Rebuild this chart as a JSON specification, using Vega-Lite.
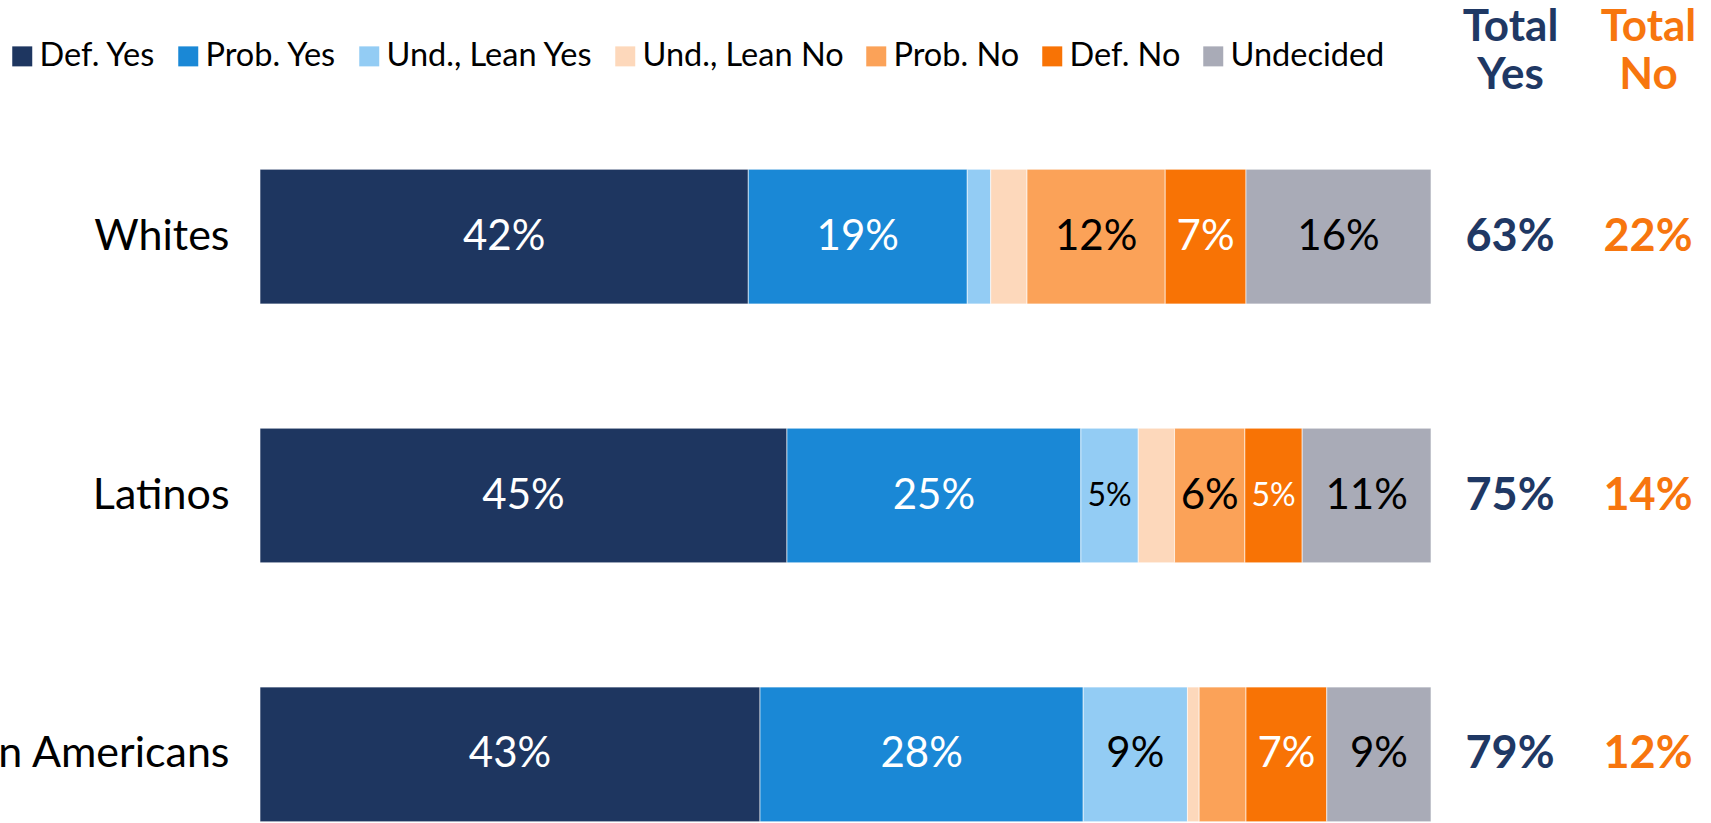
{
  "$schema": "https://vega.github.io/schema/vega-lite/v6.json",
  "autosize": "none",
  "width": 1451,
  "height": 823,
  "padding": {"left": 260, "top": 0, "right": 0, "bottom": 0},
  "background": "white",
  "config": {"view": {"stroke": null}, "font": "Lato"},
  "datasets": {
    "bars": [
      {"group": "Whites", "cat": "Def. Yes", "k": 1, "value": 41.7, "label": "42%"},
      {"group": "Whites", "cat": "Prob. Yes", "k": 2, "value": 18.7, "label": "19%"},
      {"group": "Whites", "cat": "Und., Lean Yes", "k": 3, "value": 2.0, "label": ""},
      {"group": "Whites", "cat": "Und., Lean No", "k": 4, "value": 3.1, "label": ""},
      {"group": "Whites", "cat": "Prob. No", "k": 5, "value": 11.8, "label": "12%"},
      {"group": "Whites", "cat": "Def. No", "k": 6, "value": 6.9, "label": "7%"},
      {"group": "Whites", "cat": "Undecided", "k": 7, "value": 15.8, "label": "16%"},
      {"group": "Latinos", "cat": "Def. Yes", "k": 1, "value": 45.0, "label": "45%"},
      {"group": "Latinos", "cat": "Prob. Yes", "k": 2, "value": 25.1, "label": "25%"},
      {"group": "Latinos", "cat": "Und., Lean Yes", "k": 3, "value": 4.9, "label": "5%"},
      {"group": "Latinos", "cat": "Und., Lean No", "k": 4, "value": 3.1, "label": ""},
      {"group": "Latinos", "cat": "Prob. No", "k": 5, "value": 6.0, "label": "6%"},
      {"group": "Latinos", "cat": "Def. No", "k": 6, "value": 4.9, "label": "5%"},
      {"group": "Latinos", "cat": "Undecided", "k": 7, "value": 11.0, "label": "11%"},
      {"group": "Asian Americans", "cat": "Def. Yes", "k": 1, "value": 42.7, "label": "43%"},
      {"group": "Asian Americans", "cat": "Prob. Yes", "k": 2, "value": 27.6, "label": "28%"},
      {"group": "Asian Americans", "cat": "Und., Lean Yes", "k": 3, "value": 8.9, "label": "9%"},
      {"group": "Asian Americans", "cat": "Und., Lean No", "k": 4, "value": 1.0, "label": ""},
      {"group": "Asian Americans", "cat": "Prob. No", "k": 5, "value": 4.0, "label": ""},
      {"group": "Asian Americans", "cat": "Def. No", "k": 6, "value": 6.9, "label": "7%"},
      {"group": "Asian Americans", "cat": "Undecided", "k": 7, "value": 8.9, "label": "9%"}
    ],
    "totals": [
      {"group": "Whites", "yes": "63%", "no": "22%"},
      {"group": "Latinos", "yes": "75%", "no": "14%"},
      {"group": "Asian Americans", "yes": "79%", "no": "12%"}
    ]
  },
  "layer": [
    {
      "data": {"name": "bars"},
      "mark": {"type": "bar", "stroke": "white", "strokeWidth": 0.6},
      "encoding": {
        "y": {
          "field": "group", "type": "nominal", "sort": null,
          "scale": {"range": [45, 946], "paddingInner": 0.48, "paddingOuter": 0.48},
          "axis": {"title": null, "ticks": false, "domain": false, "labelFontSize": 43, "labelFont": "Lato", "labelColor": "#000000", "labelPadding": 31, "labelLimit": 0}
        },
        "x": {
          "field": "value", "type": "quantitative", "stack": "normalize",
          "scale": {"domain": [0, 1.2391], "nice": false, "zero": true},
          "axis": {
            "orient": "top", "values": [1.0675, 1.1853], "title": null, "ticks": false, "domain": false, "grid": false,
            "labelExpr": "datum.value < 1.1 ? ['Total', 'Yes'] : ['Total', 'No']",
            "labelFontSize": 44, "labelFont": "Lato", "labelFontWeight": "bold", "labelLineHeight": 48,
            "labelColor": {"condition": {"test": "datum.value < 1.1", "value": "#1f3864"}, "value": "#f7760e"},
            "labelFlush": false, "labelOverlap": false, "labelBound": false,
            "offset": -49, "labelPadding": 0
          }
        },
        "color": {
          "field": "cat", "type": "nominal",
          "scale": {
            "domain": ["Def. Yes", "Prob. Yes", "Und., Lean Yes", "Und., Lean No", "Prob. No", "Def. No", "Undecided"],
            "range": ["#1e3660", "#1a88d6", "#93ccf4", "#fdd8bb", "#fba258", "#f87305", "#a9abb7"]
          },
          "legend": {
            "orient": "none", "legendX": -254, "legendY": 40, "direction": "horizontal", "title": null,
            "labelFontSize": 32.5, "labelFont": "Lato", "labelColor": "#000000", "labelLimit": 0,
            "symbolType": "square", "symbolSize": 400, "symbolStrokeWidth": 0, "symbolOpacity": 1,
            "labelOffset": 1, "columnPadding": 16, "padding": 0
          }
        },
        "order": {"field": "k", "type": "quantitative"}
      }
    },
    {
      "data": {"name": "bars"},
      "mark": {"type": "text", "font": "Lato", "baseline": "middle", "align": "center"},
      "encoding": {
        "y": {"field": "group", "type": "nominal", "sort": null, "scale": {"range": [45, 946], "paddingInner": 0.48, "paddingOuter": 0.48}},
        "x": {"field": "value", "type": "quantitative", "stack": "normalize", "bandPosition": 0.5, "scale": {"domain": [0, 1.2391], "nice": false, "zero": true}},
        "detail": {"field": "cat", "type": "nominal"},
        "order": {"field": "k", "type": "quantitative"},
        "text": {"field": "label", "type": "nominal"},
        "size": {"condition": {"test": "datum.value < 5.5", "value": 32}, "value": 42},
        "color": {"condition": {"test": "datum.cat === 'Def. Yes' || datum.cat === 'Prob. Yes' || datum.cat === 'Def. No'", "value": "#ffffff"}, "value": "#000000"}
      }
    },
    {
      "data": {"name": "totals"},
      "mark": {"type": "text", "font": "Lato", "fontWeight": "bold", "fontSize": 45, "color": "#1f3864", "baseline": "middle", "align": "center"},
      "encoding": {
        "y": {"field": "group", "type": "nominal", "sort": null, "scale": {"range": [45, 946], "paddingInner": 0.48, "paddingOuter": 0.48}},
        "x": {"datum": 1.0675, "type": "quantitative", "scale": {"domain": [0, 1.2391], "nice": false, "zero": true}},
        "text": {"field": "yes", "type": "nominal"}
      }
    },
    {
      "data": {"name": "totals"},
      "mark": {"type": "text", "font": "Lato", "fontWeight": "bold", "fontSize": 45, "color": "#f7760e", "baseline": "middle", "align": "center"},
      "encoding": {
        "y": {"field": "group", "type": "nominal", "sort": null, "scale": {"range": [45, 946], "paddingInner": 0.48, "paddingOuter": 0.48}},
        "x": {"datum": 1.1853, "type": "quantitative", "scale": {"domain": [0, 1.2391], "nice": false, "zero": true}},
        "text": {"field": "no", "type": "nominal"}
      }
    }
  ]
}
